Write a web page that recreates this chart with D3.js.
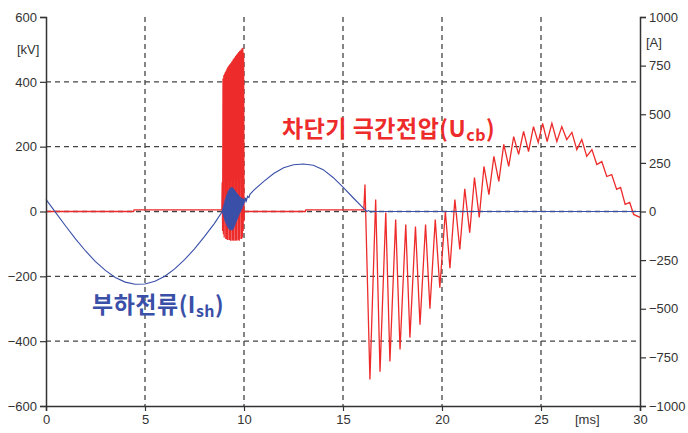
<!DOCTYPE html>
<html><head><meta charset="utf-8">
<script src="https://cdn.jsdelivr.net/npm/d3@7"></script>
<style>
body{margin:0;background:#fff;}
svg{display:block;}
</style></head>
<body>
<svg id="c" width="688" height="433"></svg>
<script>
// ---------- data ----------
const xTicks = [0,5,10,15,20,25,30];
const kvTicks = [-600,-400,-200,0,200,400,600];
const aTicks = [-1000,-750,-500,-250,0,250,500,750,1000];
const kvGrid = [-400,-200,0,200,400];
const msGrid = [5,10,15,20,25];

// load current I_sh [A] (right axis)
const curT = [0,0.5,1,1.5,2,2.5,3,3.5,4,4.5,5,5.5,6,6.5,7,7.5,8,8.5,8.9,
  8.92,8.94,8.96,8.98,9.0,9.02,9.04,9.06,9.08,9.1,9.12,9.14,9.16,9.18,9.2,9.22,9.24,9.26,9.28,9.3,9.32,9.34,9.36,9.38,9.4,
  9.42,9.44,9.46,9.48,9.5,9.52,9.54,9.56,9.58,9.6,9.62,9.64,9.66,9.68,9.7,9.72,9.74,9.76,9.78,9.8,9.82,9.84,9.86,9.88,9.9,
  9.92,9.94,9.96,9.98,10.0,10.04,10.08,10.12,10.18,10.25,10.3,
  10.5,11,11.5,12,12.5,13,13.5,14,14.5,15,15.5,16,16.2,16.3,16.4,16.5,30];
const curA = [62,-7,-76,-142,-203,-258,-303,-339,-363,-374,-373,-359,-333,-295,-248,-192,-129,-62,0,
  15,-15,30,-30,45,-45,60,-55,72,-65,85,-75,95,-82,105,-88,112,-92,118,-95,122,-97,125,-97,125,
  -95,122,-90,118,-82,112,-72,106,-62,100,-52,95,-42,90,-32,85,-22,80,-12,76,-4,72,5,70,14,
  68,24,66,34,66,45,70,55,78,72,88,
  110,155,195,225,240,244,238,215,175,125,72,20,0,5,-3,0,0];

// breaker voltage U_cb [kV] (left axis)
const voltT = [0,4.42,4.45,8.86,
  8.88,8.9,8.92,8.94,8.96,8.98,9.0,9.02,9.04,9.06,9.08,9.1,9.12,9.14,9.16,9.18,9.2,9.22,9.24,9.26,9.28,9.3,9.32,9.34,9.36,9.38,
  9.4,9.42,9.44,9.46,9.48,9.5,9.52,9.54,9.56,9.58,9.6,9.62,9.64,9.66,9.68,9.7,9.72,9.74,9.76,9.78,9.8,9.82,9.84,9.86,9.88,
  9.9,9.92,9.94,9.96,9.98,10.0,10.02,
  13.1,13.12,16.05,
  16.11,16.36,16.65,16.87,17.16,17.37,17.66,17.88,18.17,18.38,18.66,18.89,19.17,19.39,19.66,19.89,20.17,20.4,20.65,20.9,21.15,21.4,21.64,21.88,22.12,22.37,22.62,22.87,23.12,23.37,23.62,23.87,24.12,24.37,24.62,24.86,25.08,25.31,25.55,25.8,26.05,26.3,26.56,26.81,27.06,27.31,27.57,27.82,28.07,28.32,28.57,28.82,29.02,29.25,29.48,29.68,30.0];
const voltKV = [0,0,5,5,
  5,90,-60,410,-70,420,-80,425,180,430,-85,435,-85,440,-88,445,150,448,-88,452,-88,455,-90,458,250,462,
  -90,465,-88,470,-90,473,130,476,-90,480,-88,483,-90,486,200,489,-88,492,-90,495,-85,497,240,500,-85,
  503,-80,505,-60,490,-30,0,
  0,5,5,
  83,-518,37,-494,-3,-463,-25,-426,-40,-389,-46,-349,-40,-300,-25,-235,0,-175,37,-117,70,-65,105,-18,139,52,170,93,207,139,231,176,247,185,262,213,272,216,272,216,262,222,244,191,222,170,191,145,154,108,114,68,74,22,28,-9,-18];

// ---------- layout ----------
const L = 46, R = 640, T = 17, B = 406;
const svg = d3.select('#c');
const x = d3.scaleLinear().domain([0,30]).range([L,R]);
const yV = d3.scaleLinear().domain([-600,600]).range([B,T]);
const yA = d3.scaleLinear().domain([-1000,1000]).range([B,T]);

const RED = '#ee2b2b', BLUE = '#3a4fa8', AX = '#333';
const font = '"Liberation Sans", Arial, sans-serif';

// grid
const g = svg.append('g');
g.selectAll('.hg').data(kvGrid).join('line')
  .attr('x1',L).attr('x2',R).attr('y1',d=>yV(d)).attr('y2',d=>yV(d))
  .attr('stroke','#444').attr('stroke-width',1.3).attr('stroke-dasharray','5,4');
g.selectAll('.vg').data(msGrid).join('line')
  .attr('x1',d=>x(d)).attr('x2',d=>x(d)).attr('y1',T).attr('y2',B)
  .attr('stroke','#444').attr('stroke-width',1.3).attr('stroke-dasharray','5,4');

// lines (voltage first, current drawn on top)
svg.append('path').datum(voltT.map((t,i)=>[t,voltKV[i]]))
  .attr('fill','none').attr('stroke',RED).attr('stroke-width',1.3)
  .attr('d', d3.line().x(d=>x(d[0])).y(d=>yV(d[1])));
svg.append('path').datum(curT.map((t,i)=>[t,curA[i]]))
  .attr('fill','none').attr('stroke',BLUE).attr('stroke-width',1.1)
  .attr('d', d3.line().x(d=>x(d[0])).y(d=>yA(d[1])));

// axes
function styleAxis(sel){
  sel.selectAll('path').attr('stroke',AX).attr('stroke-width',1.5);
  sel.selectAll('line').attr('stroke',AX).attr('stroke-width',1.2);
  sel.selectAll('text').attr('fill',AX).style('font-family',font).style('font-size','13px');
}
svg.append('g').attr('transform',`translate(${L},0)`)
  .call(d3.axisLeft(yV).tickValues(kvTicks).tickFormat(d3.format('d')).tickSizeOuter(0).tickSize(6).tickPadding(3))
  .call(styleAxis);
svg.append('g').attr('transform',`translate(${R},0)`)
  .call(d3.axisRight(yA).tickValues(aTicks).tickFormat(d3.format('d')).tickSizeOuter(0).tickSize(6).tickPadding(3))
  .call(styleAxis);
svg.append('g').attr('transform',`translate(0,${B})`)
  .call(d3.axisBottom(x).tickValues(xTicks).tickFormat(d3.format('d')).tickSizeOuter(0).tickSize(5).tickPadding(4))
  .call(styleAxis);

// unit labels
svg.append('text').attr('x',17).attr('y',54).text('[kV]').attr('fill',AX).style('font-family',font).style('font-size','13px');
svg.append('text').attr('x',646).attr('y',47).text('[A]').attr('fill',AX).style('font-family',font).style('font-size','13px');
svg.append('text').attr('x',575).attr('y',424).text('[ms]').attr('fill',AX).style('font-family',font).style('font-size','13px');

// series labels
const kfont = '"Noto Sans CJK KR", sans-serif';
const t1 = svg.append('text').attr('x',282).attr('y',137).attr('fill',RED)
  .style('font-family',kfont).style('font-size','23px').style('font-weight','bold').style('letter-spacing','0.5px');
t1.append('tspan').text('차단기 극간전압(U');
t1.append('tspan').text('cb').attr('dy',4).style('font-size','16px');
t1.append('tspan').text(')').attr('dy',-4);

const t2 = svg.append('text').attr('x',92).attr('y',313).attr('fill',BLUE)
  .style('font-family',kfont).style('font-size','23px').style('font-weight','bold').style('letter-spacing','0.5px');
t2.append('tspan').text('부하전류(I');
t2.append('tspan').text('sh').attr('dy',4).style('font-size','16px');
t2.append('tspan').text(')').attr('dy',-4);
</script>
</body></html>
